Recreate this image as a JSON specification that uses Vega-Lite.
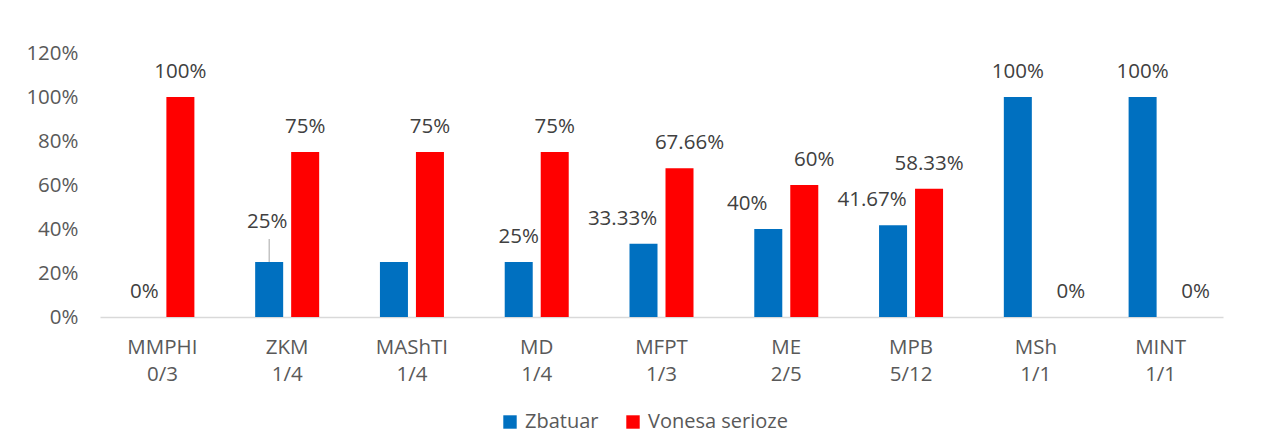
{
  "$schema": "https://vega.github.io/schema/vega-lite/v6.json",
  "width": 1123,
  "height": 264,
  "autosize": {"type": "none"},
  "padding": {"left": 100, "top": 53, "right": 41, "bottom": 122},
  "background": "white",
  "config": {
    "font": "Open Sans",
    "view": {"stroke": null},
    "axis": {"labelColor": "#595959", "labelFontSize": 20.5, "grid": false, "ticks": false, "title": null}
  },
  "data": {
    "values": [
      {"cat": "MMPHI|0/3", "series": "Zbatuar", "value": 0},
      {"cat": "MMPHI|0/3", "series": "Vonesa serioze", "value": 1},
      {"cat": "ZKM|1/4", "series": "Zbatuar", "value": 0.25},
      {"cat": "ZKM|1/4", "series": "Vonesa serioze", "value": 0.75},
      {"cat": "MAShTI|1/4", "series": "Zbatuar", "value": 0.25},
      {"cat": "MAShTI|1/4", "series": "Vonesa serioze", "value": 0.75},
      {"cat": "MD|1/4", "series": "Zbatuar", "value": 0.25},
      {"cat": "MD|1/4", "series": "Vonesa serioze", "value": 0.75},
      {"cat": "MFPT|1/3", "series": "Zbatuar", "value": 0.3333},
      {"cat": "MFPT|1/3", "series": "Vonesa serioze", "value": 0.6766},
      {"cat": "ME|2/5", "series": "Zbatuar", "value": 0.4},
      {"cat": "ME|2/5", "series": "Vonesa serioze", "value": 0.6},
      {"cat": "MPB|5/12", "series": "Zbatuar", "value": 0.4167},
      {"cat": "MPB|5/12", "series": "Vonesa serioze", "value": 0.5833},
      {"cat": "MSh|1/1", "series": "Zbatuar", "value": 1},
      {"cat": "MSh|1/1", "series": "Vonesa serioze", "value": 0},
      {"cat": "MINT|1/1", "series": "Zbatuar", "value": 1},
      {"cat": "MINT|1/1", "series": "Vonesa serioze", "value": 0}
    ]
  },
  "encoding": {
    "x": {
      "field": "cat", "type": "nominal", "sort": null,
      "scale": {"paddingInner": 0.487, "paddingOuter": 0.2435},
      "axis": {"labelAngle": 0, "labelExpr": "split(datum.value, '|')", "labelLineHeight": 27, "labelPadding": 20, "domainColor": "#D9D9D9", "domainWidth": 1.5, "labelBaseline": "top"}
    },
    "xOffset": {"field": "series", "type": "nominal", "sort": ["Zbatuar", "Vonesa serioze"], "scale": {"paddingInner": 0.222, "paddingOuter": 0}},
    "y": {
      "field": "value", "type": "quantitative",
      "scale": {"domain": [0, 1.2], "nice": false},
      "axis": {"values": [0, 0.2, 0.4, 0.6, 0.8, 1, 1.2], "format": ".0%", "domain": false, "labelPadding": 22}
    }
  },
  "layer": [
    {
      "mark": {"type": "bar"},
      "encoding": {
        "color": {
          "field": "series", "type": "nominal",
          "scale": {"domain": ["Zbatuar", "Vonesa serioze"], "range": ["#0070C0", "#FF0000"]},
          "legend": {
            "orient": "none", "legendX": 400, "legendY": 359, "direction": "horizontal",
            "title": null, "symbolType": "square", "symbolSize": 180, "symbolStrokeWidth": 0,
            "labelFontSize": 20, "labelColor": "#595959", "labelOffset": 5, "columnPadding": 24, "padding": 0
          }
        }
      }
    },
    {
      "transform": [{"filter": "!(datum.series == 'Zbatuar' && indexof(['ZKM|1/4','MAShTI|1/4','MFPT|1/3','ME|2/5','MPB|5/12'], datum.cat) >= 0) && !(datum.series == 'Vonesa serioze' && indexof(['MFPT|1/3','ME|2/5','MSh|1/1','MINT|1/1'], datum.cat) >= 0)"}],
      "mark": {"type": "text", "baseline": "middle", "dy": -25, "fontSize": 20.5, "color": "#404040"},
      "encoding": {"text": {"field": "value", "format": ".2~%"}}
    },
    {
      "transform": [{"filter": "datum.series == 'Zbatuar' && indexof(['MFPT|1/3','ME|2/5','MPB|5/12'], datum.cat) >= 0"}],
      "mark": {"type": "text", "baseline": "middle", "dy": -25, "dx": -21, "fontSize": 20.5, "color": "#404040"},
      "encoding": {"text": {"field": "value", "format": ".2~%"}}
    },
    {
      "transform": [{"filter": "datum.series == 'Vonesa serioze' && indexof(['MFPT|1/3','ME|2/5'], datum.cat) >= 0"}],
      "mark": {"type": "text", "baseline": "middle", "dy": -25, "dx": 10, "fontSize": 20.5, "color": "#404040"},
      "encoding": {"text": {"field": "value", "format": ".2~%"}}
    },
    {
      "transform": [{"filter": "datum.series == 'Vonesa serioze' && indexof(['MSh|1/1','MINT|1/1'], datum.cat) >= 0"}],
      "mark": {"type": "text", "baseline": "middle", "dy": -25, "dx": 17, "fontSize": 20.5, "color": "#404040"},
      "encoding": {"text": {"field": "value", "format": ".2~%"}}
    },
    {
      "transform": [{"filter": "datum.series == 'Zbatuar' && datum.cat == 'ZKM|1/4'"}],
      "mark": {"type": "text", "baseline": "middle", "dy": -40, "dx": -2, "fontSize": 20.5, "color": "#404040"},
      "encoding": {"text": {"field": "value", "format": ".2~%"}}
    },
    {
      "transform": [{"filter": "datum.series == 'Zbatuar' && datum.cat == 'ZKM|1/4'"}],
      "mark": {"type": "rule", "color": "#A6A6A6", "strokeWidth": 1, "y2Offset": -23, "xOffset": -1},
      "encoding": {"y2": {"field": "value"}}
    }
  ]
}
